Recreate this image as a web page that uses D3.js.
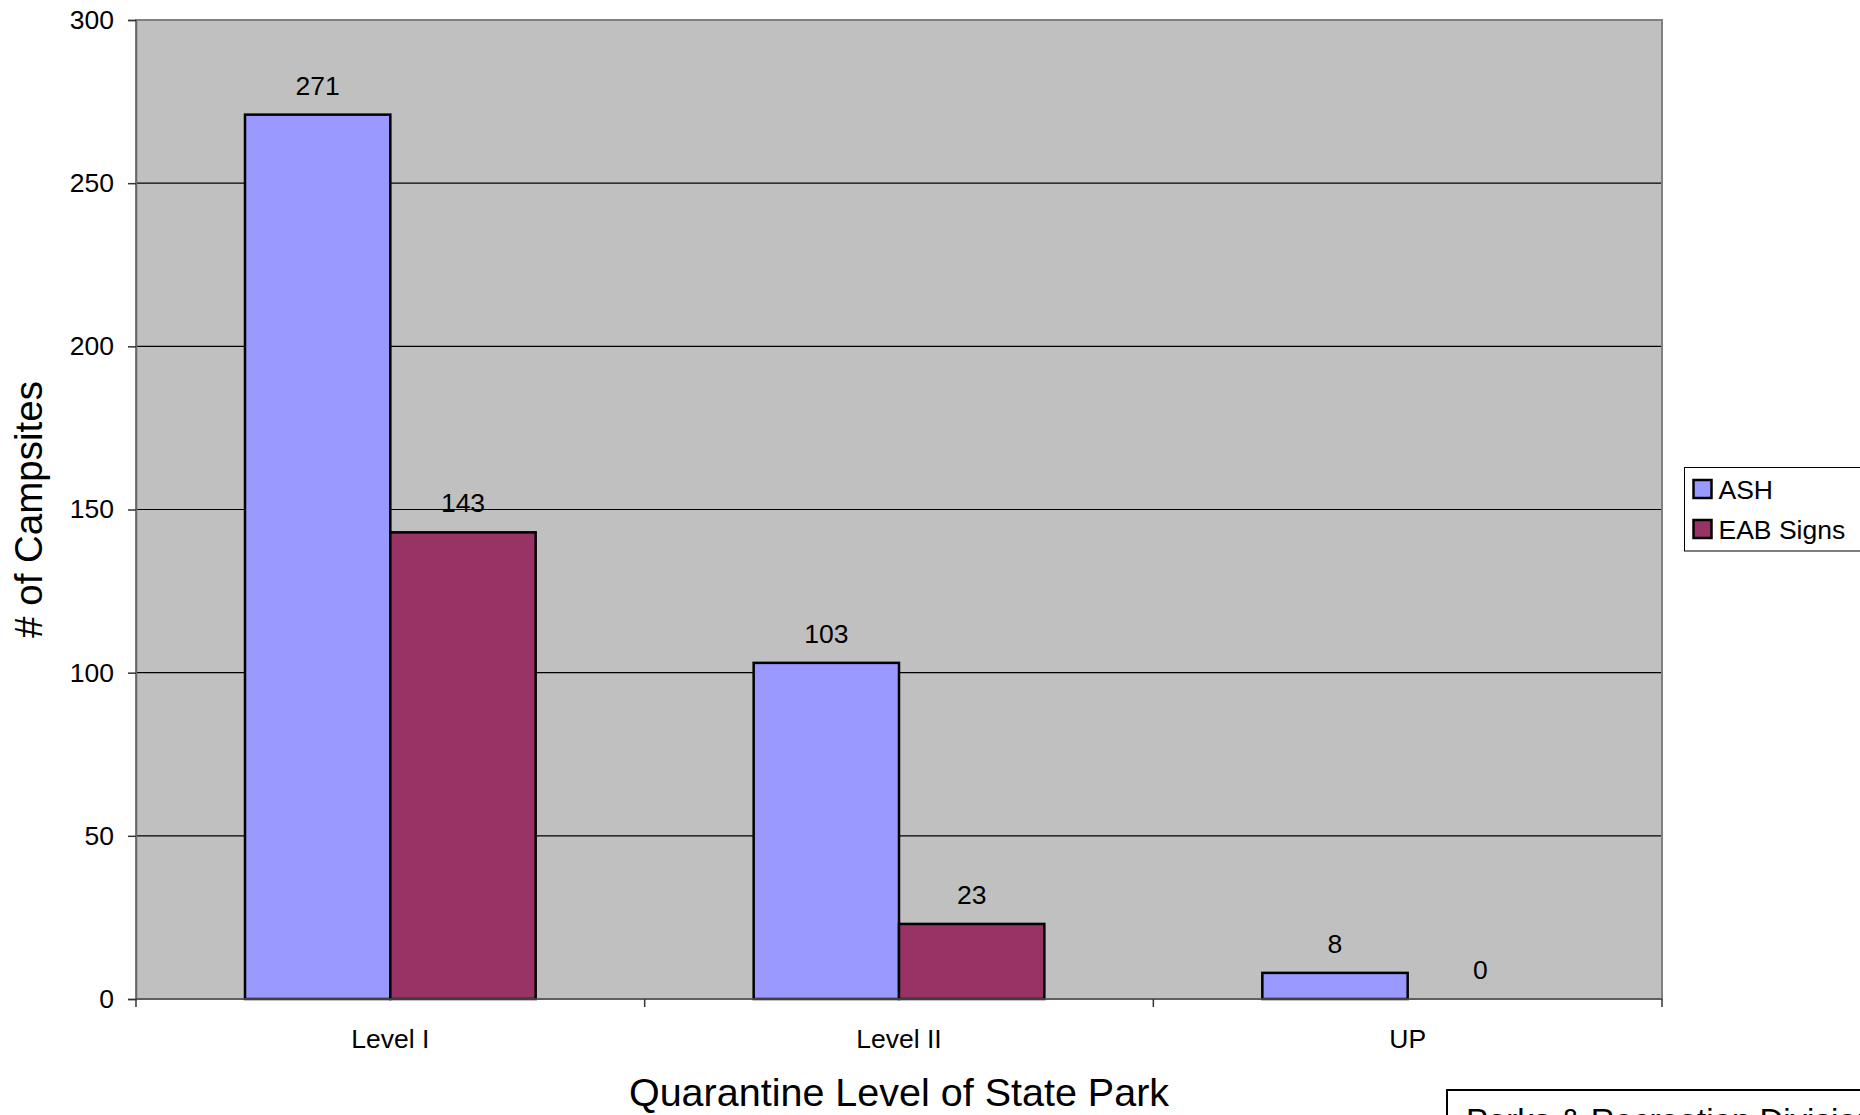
<!DOCTYPE html>
<html>
<head>
<meta charset="utf-8">
<script src="https://cdn.jsdelivr.net/npm/d3@7"></script>
<style>
  html, body { margin: 0; padding: 0; background: #fff; overflow: hidden; }
  svg { display: block; font-family: "Liberation Sans", Arial, sans-serif; }
</style>
</head>
<body>
<svg id="chart" width="1860" height="1115"></svg>
<script>
// Campsite counts by park quarantine level
const categories = ["Level I", "Level II", "UP"];
const seriesNames = ["ASH", "EAB Signs"];
const ashValues = [271, 103, 8];
const eabValues = [143, 23, 0];
const yTicks = [0, 50, 100, 150, 200, 250, 300];
const colors = ["#9999FF", "#993366"];

const rows = categories.map((c, i) => ({
  category: c,
  values: [
    { key: seriesNames[0], value: ashValues[i] },
    { key: seriesNames[1], value: eabValues[i] }
  ]
}));

const svg = d3.select("#chart");
const plot = { left: 136, right: 1662, top: 20, bottom: 999 };

const x0 = d3.scaleBand().domain(categories).range([plot.left, plot.right]).padding(0);
const x1 = d3.scaleBand().domain(seriesNames).range([0, x0.bandwidth()])
  .paddingInner(0).paddingOuter(0.75);
const y = d3.scaleLinear().domain([0, 300]).range([plot.bottom, plot.top]);
const color = d3.scaleOrdinal().domain(seriesNames).range(colors);

// plot background
svg.append("rect")
  .attr("x", plot.left).attr("y", plot.top)
  .attr("width", plot.right - plot.left).attr("height", plot.bottom - plot.top)
  .attr("fill", "#C0C0C0");

// horizontal gridlines
svg.append("g").selectAll("line")
  .data(yTicks.filter(t => t > 0 && t < 300))
  .join("line")
  .attr("x1", plot.left).attr("x2", plot.right)
  .attr("y1", d => y(d)).attr("y2", d => y(d))
  .attr("stroke", "#000").attr("stroke-width", 1.2);

// plot border
svg.append("rect")
  .attr("x", plot.left).attr("y", plot.top)
  .attr("width", plot.right - plot.left).attr("height", plot.bottom - plot.top)
  .attr("fill", "none").attr("stroke", "#808080").attr("stroke-width", 2);

// bars
const groups = svg.append("g").selectAll("g")
  .data(rows)
  .join("g")
  .attr("transform", d => `translate(${x0(d.category)},0)`);

groups.selectAll("rect")
  .data(d => d.values.filter(v => v.value > 0))
  .join("rect")
  .attr("x", d => x1(d.key))
  .attr("y", d => y(d.value))
  .attr("width", x1.bandwidth())
  .attr("height", d => y(0) - y(d.value))
  .attr("fill", d => color(d.key))
  .attr("stroke", "#000")
  .attr("stroke-width", 2.5);

// value labels
groups.selectAll("text")
  .data(d => d.values)
  .join("text")
  .attr("x", d => x1(d.key) + x1.bandwidth() / 2)
  .attr("y", d => y(d.value) - 20)
  .attr("text-anchor", "middle")
  .attr("font-size", 26.5)
  .attr("fill", "#000")
  .text(d => d.value);

// y axis
const yAxis = svg.append("g")
  .attr("transform", `translate(${plot.left},0)`)
  .call(d3.axisLeft(y).tickValues(yTicks).tickSize(8).tickPadding(14).tickFormat(d3.format("d")));
yAxis.select(".domain").attr("stroke", "#666").attr("stroke-width", 1.5);
yAxis.selectAll(".tick line").attr("stroke", "#333").attr("stroke-width", 1.5);
yAxis.selectAll(".tick text")
  .attr("font-size", 26.5).attr("fill", "#000")
  .attr("font-family", "Liberation Sans, Arial, sans-serif");

// x axis: ticks sit on category boundaries
const xAxis = svg.append("g")
  .attr("transform", `translate(0,${plot.bottom})`);
xAxis.append("line")
  .attr("x1", plot.left).attr("x2", plot.right)
  .attr("stroke", "#555").attr("stroke-width", 1.5);
const bounds = categories.map(c => x0(c)).concat([x0(categories[categories.length - 1]) + x0.bandwidth()]);
xAxis.selectAll("line.tick")
  .data(bounds)
  .join("line")
  .attr("class", "tick")
  .attr("x1", d => d).attr("x2", d => d)
  .attr("y1", 0).attr("y2", 8)
  .attr("stroke", "#333").attr("stroke-width", 1.5);
xAxis.selectAll("text")
  .data(categories)
  .join("text")
  .attr("x", d => x0(d) + x0.bandwidth() / 2)
  .attr("y", 49)
  .attr("text-anchor", "middle")
  .attr("font-size", 26.5)
  .text(d => d);

// axis titles
svg.append("text")
  .attr("x", (plot.left + plot.right) / 2)
  .attr("y", 1106)
  .attr("text-anchor", "middle")
  .attr("font-size", 39.5)
  .text("Quarantine Level of State Park");

svg.append("text")
  .attr("transform", `translate(42,${(plot.top + plot.bottom) / 2}) rotate(-90)`)
  .attr("text-anchor", "middle")
  .attr("font-size", 38.5)
  .text("# of Campsites");

// legend
const legend = svg.append("g");
legend.append("rect")
  .attr("x", 1684.5).attr("y", 467.5)
  .attr("width", 220).attr("height", 83.5)
  .attr("fill", "#fff").attr("stroke", "#000").attr("stroke-width", 1);
const items = legend.selectAll("g.item")
  .data(seriesNames)
  .join("g")
  .attr("class", "item")
  .attr("transform", (d, i) => `translate(1693.5,${480 + i * 40})`);
items.append("rect")
  .attr("width", 18).attr("height", 18)
  .attr("fill", d => color(d))
  .attr("stroke", "#000").attr("stroke-width", 2.5);
items.append("text")
  .attr("x", 25).attr("y", 19)
  .attr("font-size", 26.5)
  .text(d => d);

// source note box
const note = svg.append("g");
note.append("rect")
  .attr("x", 1447).attr("y", 1090)
  .attr("width", 500).attr("height", 60)
  .attr("fill", "#fff").attr("stroke", "#000").attr("stroke-width", 2);
note.append("text")
  .attr("x", 1466).attr("y", 1132)
  .attr("font-size", 33)
  .text("Parks & Recreation Division");
</script>
</body>
</html>
